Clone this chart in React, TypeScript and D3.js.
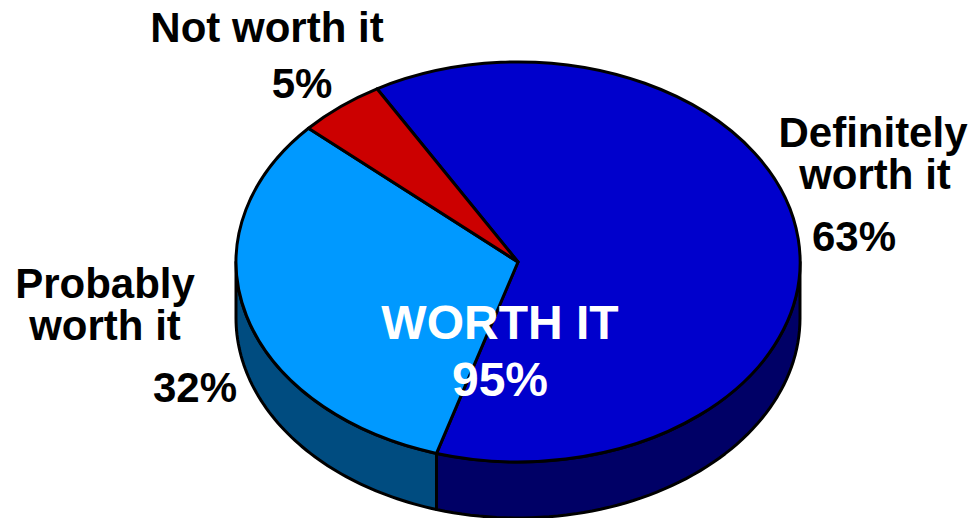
import React from "react";
import * as d3 from "d3";

const categories = ["Definitely worth it", "Probably worth it", "Not worth it"];
const values = [63, 32, 5];
const topColors = ["#0000cc", "#0099ff", "#cc0000"];
const sideColors = ["#000066", "#004c80", "#660000"];

const width = 971;
const height = 518;
const cx = 518;
const cy = 262;
const rx = 282;
const ry = 200;
const depth = 56;
const startAngle = (330 * Math.PI) / 180;

// [text, x, baseline, color, size]
const labels: [string, number, number, string, number][] = [
  ["Not worth it", 267, 42, "#000", 42],
  ["5%", 302, 98, "#000", 42],
  ["Definitely", 873, 147, "#000", 42],
  ["worth it", 875, 189, "#000", 42],
  ["63%", 854, 251, "#000", 42],
  ["Probably", 105, 298, "#000", 42],
  ["worth it", 105, 340, "#000", 42],
  ["32%", 195, 402, "#000", 42],
  ["WORTH IT", 500, 339, "#fff", 48],
  ["95%", 500, 396, "#fff", 48],
];

const pie = d3
  .pie<number>()
  .sort(null)
  .startAngle(startAngle)
  .endAngle(startAngle + Math.PI * 2);

const arc = d3.arc<d3.PieArcDatum<number>>().innerRadius(0).outerRadius(1);

// point on the rim of the tilted pie, angle clockwise from the top
const rimX = (a: number) => cx + rx * Math.sin(a);
const rimY = (a: number) => cy - ry * Math.cos(a);

// side wall of a slice: only the part of the rim facing the viewer shows
function wallPath(a0: number, a1: number) {
  const paths: string[] = [];
  for (const k of [0, 1]) {
    const lo = Math.max(a0, Math.PI / 2 + k * Math.PI * 2);
    const hi = Math.min(a1, (Math.PI * 3) / 2 + k * Math.PI * 2);
    if (hi <= lo) continue;
    const steps = d3.range(0, 61).map((i) => lo + ((hi - lo) * i) / 60);
    const line = d3.line<[number, number]>();
    const top = steps.map((a) => [rimX(a), rimY(a)] as [number, number]);
    const bottom = steps
      .slice()
      .reverse()
      .map((a) => [rimX(a), rimY(a) + depth] as [number, number]);
    paths.push(line(top.concat(bottom)) + "Z");
  }
  return paths.join("");
}

export default function App() {
  const slices = pie(values);
  return (
    <svg
      width={width}
      height={height}
      style={{ position: "absolute", left: 0, top: 0 }}
      fontFamily="'Liberation Sans', Arial, sans-serif"
      fontWeight="bold"
    >
      <rect width={width} height={height} fill="#fff" />
      {slices.map((d, i) => (
        <path
          key={"side-" + categories[i]}
          d={wallPath(d.startAngle, d.endAngle)}
          fill={sideColors[i]}
          stroke="#000"
          strokeWidth={3}
          strokeLinejoin="round"
        />
      ))}
      {slices.map((d, i) => (
        <path
          key={categories[i]}
          d={arc(d) as string}
          transform={`translate(${cx},${cy}) scale(${rx},${ry})`}
          fill={topColors[i]}
          stroke="#000"
          strokeWidth={3}
          strokeLinejoin="round"
          vectorEffect="non-scaling-stroke"
        />
      ))}
      {labels.map(([text, x, y, color, size], i) => (
        <text key={i} x={x} y={y} textAnchor="middle" fill={color} fontSize={size}>
          {text}
        </text>
      ))}
    </svg>
  );
}
